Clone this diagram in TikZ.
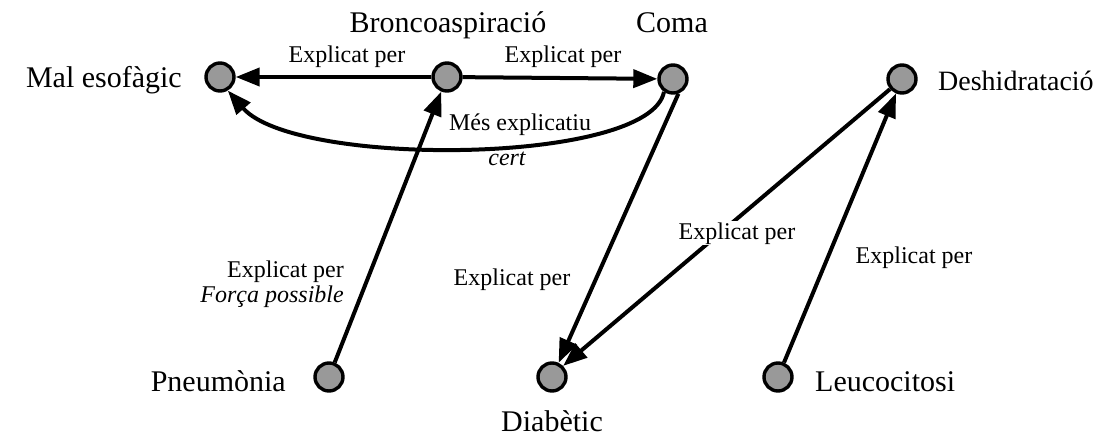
\documentclass[tikz,border=0pt]{standalone}
\usepackage{fontspec}
\setmainfont{Liberation Serif}
\usetikzlibrary{arrows.meta}
\begin{document}
\begin{tikzpicture}[x=1pt,y=-1pt,
  dot/.style={circle,draw=black,line width=3.4pt,fill=black!40,minimum size=28pt,inner sep=0pt},
  nlabel/.style={font=\fontsize{30}{32}\selectfont,inner sep=0pt},
  elab/.style={font=\fontsize{24}{26}\selectfont,inner sep=1pt},
  conn/.style={line width=4pt,-{Triangle[length=24pt,width=18pt]}}
]
\useasboundingbox (0,0) rectangle (1112,439);
% nodes
\node[dot] (mal) at (220,77) {};
\node[dot] (bron) at (447,77) {};
\node[dot] (coma) at (673,79) {};
\node[dot] (desh) at (902,79) {};
\node[dot] (pneu) at (329,377) {};
\node[dot] (diab) at (552,377) {};
\node[dot] (leuc) at (778,377) {};
% names
\node[nlabel,anchor=base east] (tmal) at (182,87) {Mal esofàgic};
\node[nlabel,anchor=base] (tbron) at (448,32) {Broncoaspiració};
\node[nlabel,anchor=base] (tcoma) at (672,32) {Coma};
\node[nlabel,anchor=base west,font=\fontsize{28}{30}\selectfont] (tdesh) at (938,90) {Deshidratació};
\node[nlabel,anchor=base east] (tpneu) at (286,391) {Pneumònia};
\node[nlabel,anchor=base] (tdiab) at (552,431) {Diabètic};
\node[nlabel,anchor=base west] (tleuc) at (815,391) {Leucocitosi};
% edges
\draw[conn] (bron) -- (mal);
\node[elab,anchor=base] (l1) at (347,62) {Explicat per};
\draw[conn] (bron) -- (coma);
\node[elab,anchor=base] (l2) at (563,62) {Explicat per};
\draw[conn] (coma.235) .. controls (650,165) and (295,168) .. (mal.300);
\node[elab,anchor=base] (l3) at (520,130) {Més explicatiu};
\node[elab,anchor=base] (l4) at (507,165) {\itshape cert};
\draw[conn] (pneu) -- (bron);
\node[elab,anchor=base east] (l5) at (345,277) {Explicat per};
\node[elab,anchor=base east] (l6) at (345,302) {\itshape Força possible};
\draw[conn] (coma.290) -- (diab.65);
\node[elab,anchor=base] (l7) at (512,285) {Explicat per};
\draw[conn] (desh) -- (diab.45);
\node[elab,anchor=base,fill=white] (l8) at (737,239) {Explicat per};
\draw[conn] (leuc) -- (desh);
\node[elab,anchor=base] (l9) at (914,263) {Explicat per};
\end{tikzpicture}
\end{document}
